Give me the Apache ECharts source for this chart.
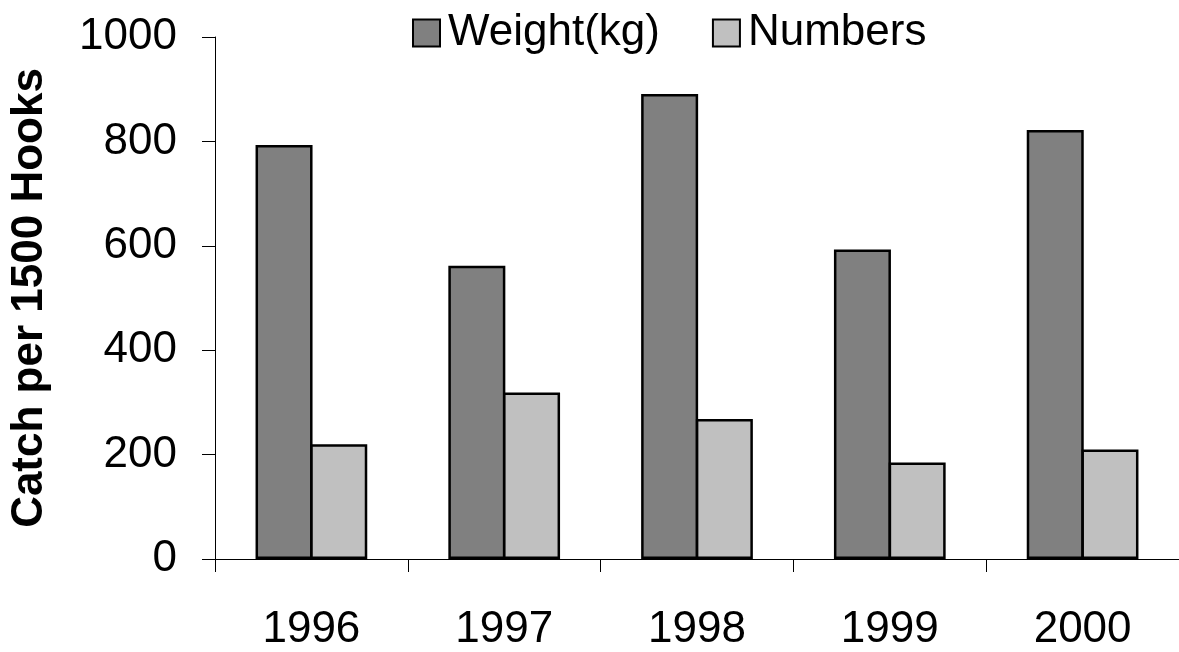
<!DOCTYPE html>
<html>
<head>
<meta charset="utf-8">
<script src="https://cdn.jsdelivr.net/npm/echarts@6/dist/echarts.min.js"></script>
<style>html,body{margin:0;padding:0;background:#fff;}#c{width:1179px;height:652px;}</style>
</head>
<body>
<div id="c"></div>
<script>
const years = ['1996', '1997', '1998', '1999', '2000'];
const weightKg = [793, 562, 891, 593, 822];
const numbers = [220, 319, 268, 185, 210];
const yTicks = { min: 0, max: 1000, interval: 200 };

const FONT = "'Liberation Sans', Arial, sans-serif";
const chart = echarts.init(document.getElementById('c'), null, { renderer: 'canvas' });
chart.setOption({
  animation: false,
  backgroundColor: '#fff',
  legend: {
    left: 407,
    top: 6,
    itemWidth: 27,
    itemHeight: 27,
    itemGap: 52,
    icon: 'rect',
    textStyle: { fontFamily: FONT, fontSize: 44, color: '#000', padding: [0, 0, 0, 3] },
    itemStyle: { borderColor: '#000', borderWidth: 2 },
    data: ['Weight(kg)', 'Numbers']
  },
  grid: { left: 215, top: 37, width: 968, height: 523, containLabel: false },
  xAxis: {
    type: 'category',
    data: years,
    boundaryGap: true,
    axisLine: { lineStyle: { color: '#000', width: 1 } },
    axisTick: { show: true, length: 13, inside: false, alignWithLabel: false, lineStyle: { color: '#000', width: 1 } },
    axisLabel: { fontFamily: FONT, fontSize: 44, color: '#000', margin: 49 },
    splitLine: { show: false }
  },
  yAxis: {
    type: 'value',
    min: yTicks.min,
    max: yTicks.max,
    interval: yTicks.interval,
    name: 'Catch per 1500 Hooks',
    nameLocation: 'middle',
    nameGap: 163,
    nameRotate: 90,
    nameTextStyle: { fontFamily: FONT, fontSize: 44, fontWeight: 'bold', color: '#000' },
    axisLine: { show: true, lineStyle: { color: '#000', width: 1 } },
    axisTick: { show: true, length: 13, inside: false, lineStyle: { color: '#000', width: 1 } },
    axisLabel: { fontFamily: FONT, fontSize: 44, color: '#000', margin: 38, formatter: v => String(v) },
    splitLine: { show: false }
  },
  series: [
    {
      name: 'Weight(kg)',
      type: 'bar',
      data: weightKg,
      barWidth: 57,
      barGap: '-4%',
      itemStyle: { color: '#808080', borderColor: '#000', borderWidth: 2.5 }
    },
    {
      name: 'Numbers',
      type: 'bar',
      data: numbers,
      barWidth: 57,
      barGap: '-4%',
      itemStyle: { color: '#c0c0c0', borderColor: '#000', borderWidth: 2.5 }
    }
  ]
});
</script>
</body>
</html>
